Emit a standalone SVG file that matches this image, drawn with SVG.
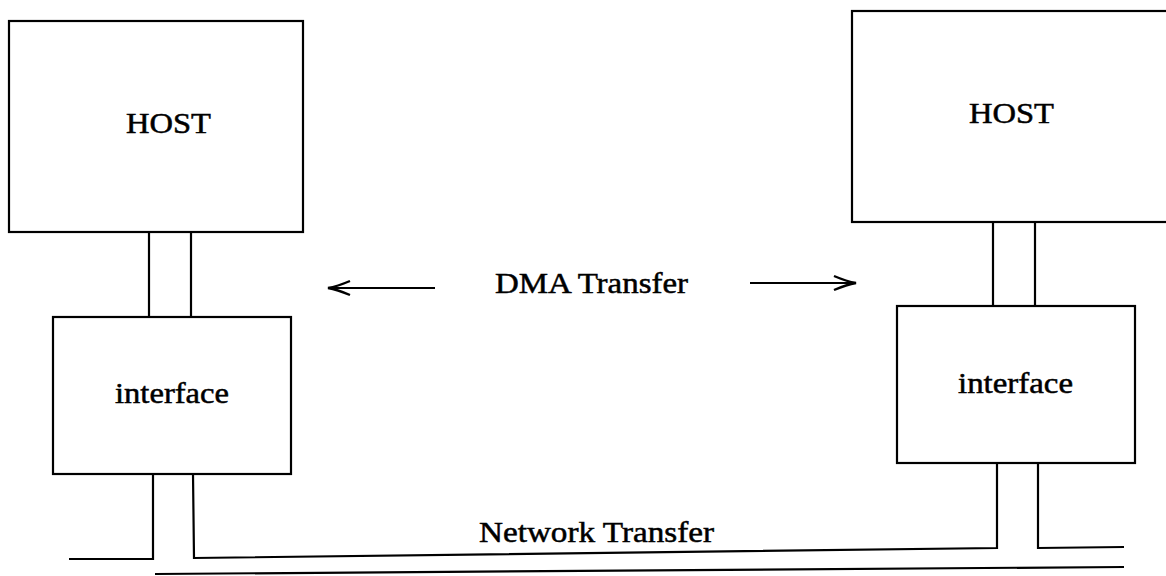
<svg xmlns="http://www.w3.org/2000/svg" width="1166" height="576" viewBox="0 0 1166 576">
  <style>
    .box { fill: #fff; stroke: #000; stroke-width: 2.2; }
    .wire { fill: none; stroke: #000; stroke-width: 2.2; stroke-linejoin: miter; }
    .label { font-family: "Liberation Serif", "DejaVu Serif", serif; font-size: 29px; fill: #000; stroke: #000; stroke-width: 0.5; text-anchor: start; }
  </style>
  <defs>
    <marker id="barb" viewBox="-24 -9 26 18" refX="0" refY="0" markerWidth="26" markerHeight="18" markerUnits="userSpaceOnUse" orient="auto">
      <path d="M-22,-7 Q-9,-1.5 0,0 Q-9,1.5 -22,7" fill="none" stroke="#000" stroke-width="2.4"/>
    </marker>
  </defs>
  <rect width="1166" height="576" fill="#fff"/>

  <!-- links between hosts, interfaces and the network cable -->
  <g id="connectors">
    <line class="wire" x1="149" y1="232" x2="149" y2="317"/>
    <line class="wire" x1="191" y1="232" x2="191" y2="317"/>
    <line class="wire" x1="993" y1="221" x2="993" y2="306"/>
    <line class="wire" x1="1035" y1="221" x2="1035" y2="306"/>
    <polyline class="wire" points="69,559 153,559 153,474"/>
    <polyline class="wire" points="193,474 194,558 997,548 997,463"/>
    <polyline class="wire" points="1038,462 1038,548 1124,547"/>
    <line class="wire" x1="155" y1="574" x2="1124" y2="567"/>
    <line class="wire" x1="435" y1="288" x2="328" y2="288" marker-end="url(#barb)"/>
    <line class="wire" x1="750" y1="283" x2="856" y2="283" marker-end="url(#barb)"/>
  </g>

  <g id="host-left">
    <rect class="box" x="9" y="21" width="294" height="211"/>
    <text class="label" x="126" y="133" textLength="85" lengthAdjust="spacingAndGlyphs">HOST</text>
  </g>
  <g id="host-right">
    <rect class="box" x="852" y="11" width="330" height="211"/>
    <text class="label" x="969" y="123" textLength="85" lengthAdjust="spacingAndGlyphs">HOST</text>
  </g>
  <g id="interface-left">
    <rect class="box" x="53" y="317" width="238" height="157"/>
    <text class="label" x="115" y="403" textLength="114" lengthAdjust="spacingAndGlyphs">interface</text>
  </g>
  <g id="interface-right">
    <rect class="box" x="897" y="306" width="238" height="157"/>
    <text class="label" x="958" y="393" textLength="115" lengthAdjust="spacingAndGlyphs">interface</text>
  </g>

  <g id="labels">
    <text class="label" x="495" y="293" textLength="193" lengthAdjust="spacingAndGlyphs">DMA Transfer</text>
    <text class="label" x="479" y="542" textLength="235" lengthAdjust="spacingAndGlyphs">Network Transfer</text>
  </g>
</svg>
